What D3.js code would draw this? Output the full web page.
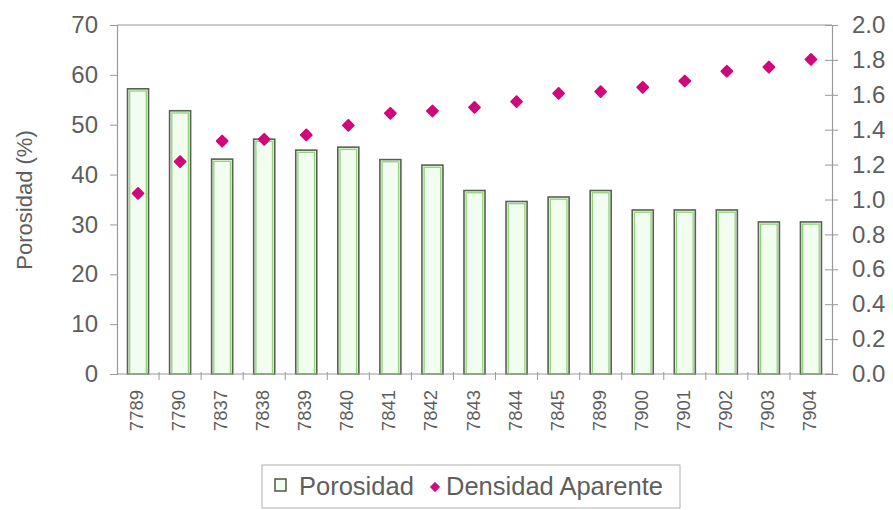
<!DOCTYPE html>
<html>
<head>
<meta charset="utf-8">
<script src="https://cdn.jsdelivr.net/npm/d3@7"></script>
<style>
  body { margin: 0; background: #fff; }
  text { font-family: "Liberation Sans", Arial, sans-serif; fill: #5e5e5e; }
</style>
</head>
<body>
<svg id="chart" width="893" height="510"></svg>
<script>
const muestras = ['7789', '7790', '7837', '7838', '7839', '7840', '7841', '7842', '7843',
    '7844', '7845', '7899', '7900', '7901', '7902', '7903', '7904'];
const porosidad = [57.2, 52.8, 43.1, 47.1, 44.9, 45.5, 43.0, 41.9, 36.8,
    34.6, 35.5, 36.8, 32.9, 32.9, 32.9, 30.5, 30.5];
const densidad = [1.035, 1.217, 1.335, 1.345, 1.37, 1.425, 1.494, 1.507, 1.528,
    1.561, 1.608, 1.618, 1.643, 1.679, 1.735, 1.759, 1.803];
const ticksPorosidad = [0, 10, 20, 30, 40, 50, 60, 70];
const ticksDensidad = [0, 0.2, 0.4, 0.6, 0.8, 1.0, 1.2, 1.4, 1.6, 1.8, 2.0];

const svg = d3.select('#chart');
const plotLeft = 117, plotRight = 832, plotTop = 25, plotBottom = 374;
const axisColor = '#9a9a9a';
const magenta = '#d1077a';

let x = d3.scaleBand()
    .domain(muestras)
    .range([plotLeft, plotRight])
    .paddingInner(0.5)
    .paddingOuter(0.25);
let yL = d3.scaleLinear().domain([0, 70]).range([plotBottom, plotTop]);
let yR = d3.scaleLinear().domain([0, 2]).range([plotBottom, plotTop]);

// bars
let bars = svg.append('g').selectAll('g')
    .data(muestras)
    .enter()
    .append('g');
bars.append('rect')
    .attr('x', d => x(d))
    .attr('y', (d, i) => yL(porosidad[i]))
    .attr('width', x.bandwidth())
    .attr('height', (d, i) => plotBottom - yL(porosidad[i]))
    .attr('fill', '#f1fdee')
    .attr('stroke', '#56624f')
    .attr('stroke-width', 1.6);
bars.append('rect')
    .attr('x', d => x(d) + 2.2)
    .attr('y', (d, i) => yL(porosidad[i]) + 2.2)
    .attr('width', x.bandwidth() - 4.4)
    .attr('height', (d, i) => Math.max(0, plotBottom - yL(porosidad[i]) - 2.2))
    .attr('fill', 'none')
    .attr('stroke', '#93d27c')
    .attr('stroke-width', 1.3);

// frame top
svg.append('line')
    .attr('x1', plotLeft).attr('x2', plotRight)
    .attr('y1', plotTop).attr('y2', plotTop)
    .attr('stroke', axisColor).attr('stroke-width', 1.2);

// left axis
let gL = svg.append('g')
    .attr('transform', `translate(${plotLeft},0)`)
    .call(d3.axisLeft(yL).tickValues(ticksPorosidad).tickSize(7).tickPadding(12));

// right axis
let gR = svg.append('g')
    .attr('transform', `translate(${plotRight},0)`)
    .call(d3.axisRight(yR).tickValues(ticksDensidad).tickFormat(d3.format('.1f')).tickSize(6).tickPadding(14));
gR.selectAll('.tick line').attr('x1', -7);

[gL, gR].forEach(g => {
    g.select('.domain').attr('stroke', axisColor).attr('stroke-width', 1.2);
    g.selectAll('.tick line').attr('stroke', axisColor);
    g.selectAll('.tick text')
        .attr('fill', '#5e5e5e')
        .style('font-size', '24px')
        .style('font-family', '"Liberation Sans", Arial, sans-serif');
});

// bottom axis
svg.append('line')
    .attr('x1', plotLeft).attr('x2', plotRight)
    .attr('y1', plotBottom).attr('y2', plotBottom)
    .attr('stroke', axisColor).attr('stroke-width', 1.2);
let step = x.step();
svg.append('g').selectAll('line')
    .data(muestras.slice(1))
    .enter()
    .append('line')
    .attr('x1', d => x(d) - step * x.paddingInner() / 2)
    .attr('x2', d => x(d) - step * x.paddingInner() / 2)
    .attr('y1', plotBottom - 2)
    .attr('y2', plotBottom + 6)
    .attr('stroke', axisColor);
svg.append('g').selectAll('text')
    .data(muestras)
    .enter()
    .append('text')
    .attr('transform', d => `translate(${x(d) + x.bandwidth() / 2 + 5},${plotBottom + 16}) rotate(-90)`)
    .attr('text-anchor', 'end')
    .style('font-size', '18.5px')
    .text(d => d);

// density points
let diamond = d3.symbol().type(d3.symbolSquare).size(58);
svg.append('g').selectAll('path')
    .data(muestras)
    .enter()
    .append('path')
    .attr('d', diamond)
    .attr('transform', (d, i) => `translate(${x(d) + x.bandwidth() / 2},${yR(densidad[i])}) rotate(45)`)
    .attr('fill', magenta)
    .attr('stroke', magenta)
    .attr('stroke-width', 2)
    .attr('stroke-linejoin', 'round');

// y title
svg.append('text')
    .attr('transform', 'translate(32,200) rotate(-90)')
    .attr('text-anchor', 'middle')
    .style('font-size', '22px')
    .text('Porosidad (%)');

// legend
let lg = svg.append('g');
lg.append('rect')
    .attr('x', 262).attr('y', 465)
    .attr('width', 418).attr('height', 43)
    .attr('fill', 'none')
    .attr('stroke', '#b0b0b0');
lg.append('rect')
    .attr('x', 275).attr('y', 479)
    .attr('width', 11).attr('height', 12)
    .attr('fill', '#f1fdee')
    .attr('stroke', '#56624f')
    .attr('stroke-width', 1.6);
lg.append('text')
    .attr('x', 299).attr('y', 495)
    .style('font-size', '25.5px')
    .text('Porosidad');
lg.append('path')
    .attr('d', d3.symbol().type(d3.symbolSquare).size(40))
    .attr('transform', 'translate(435,487) rotate(45)')
    .attr('fill', magenta)
    .attr('stroke', magenta)
    .attr('stroke-linejoin', 'round');
lg.append('text')
    .attr('x', 446).attr('y', 495)
    .style('font-size', '25.5px')
    .text('Densidad Aparente');
</script>
</body>
</html>
